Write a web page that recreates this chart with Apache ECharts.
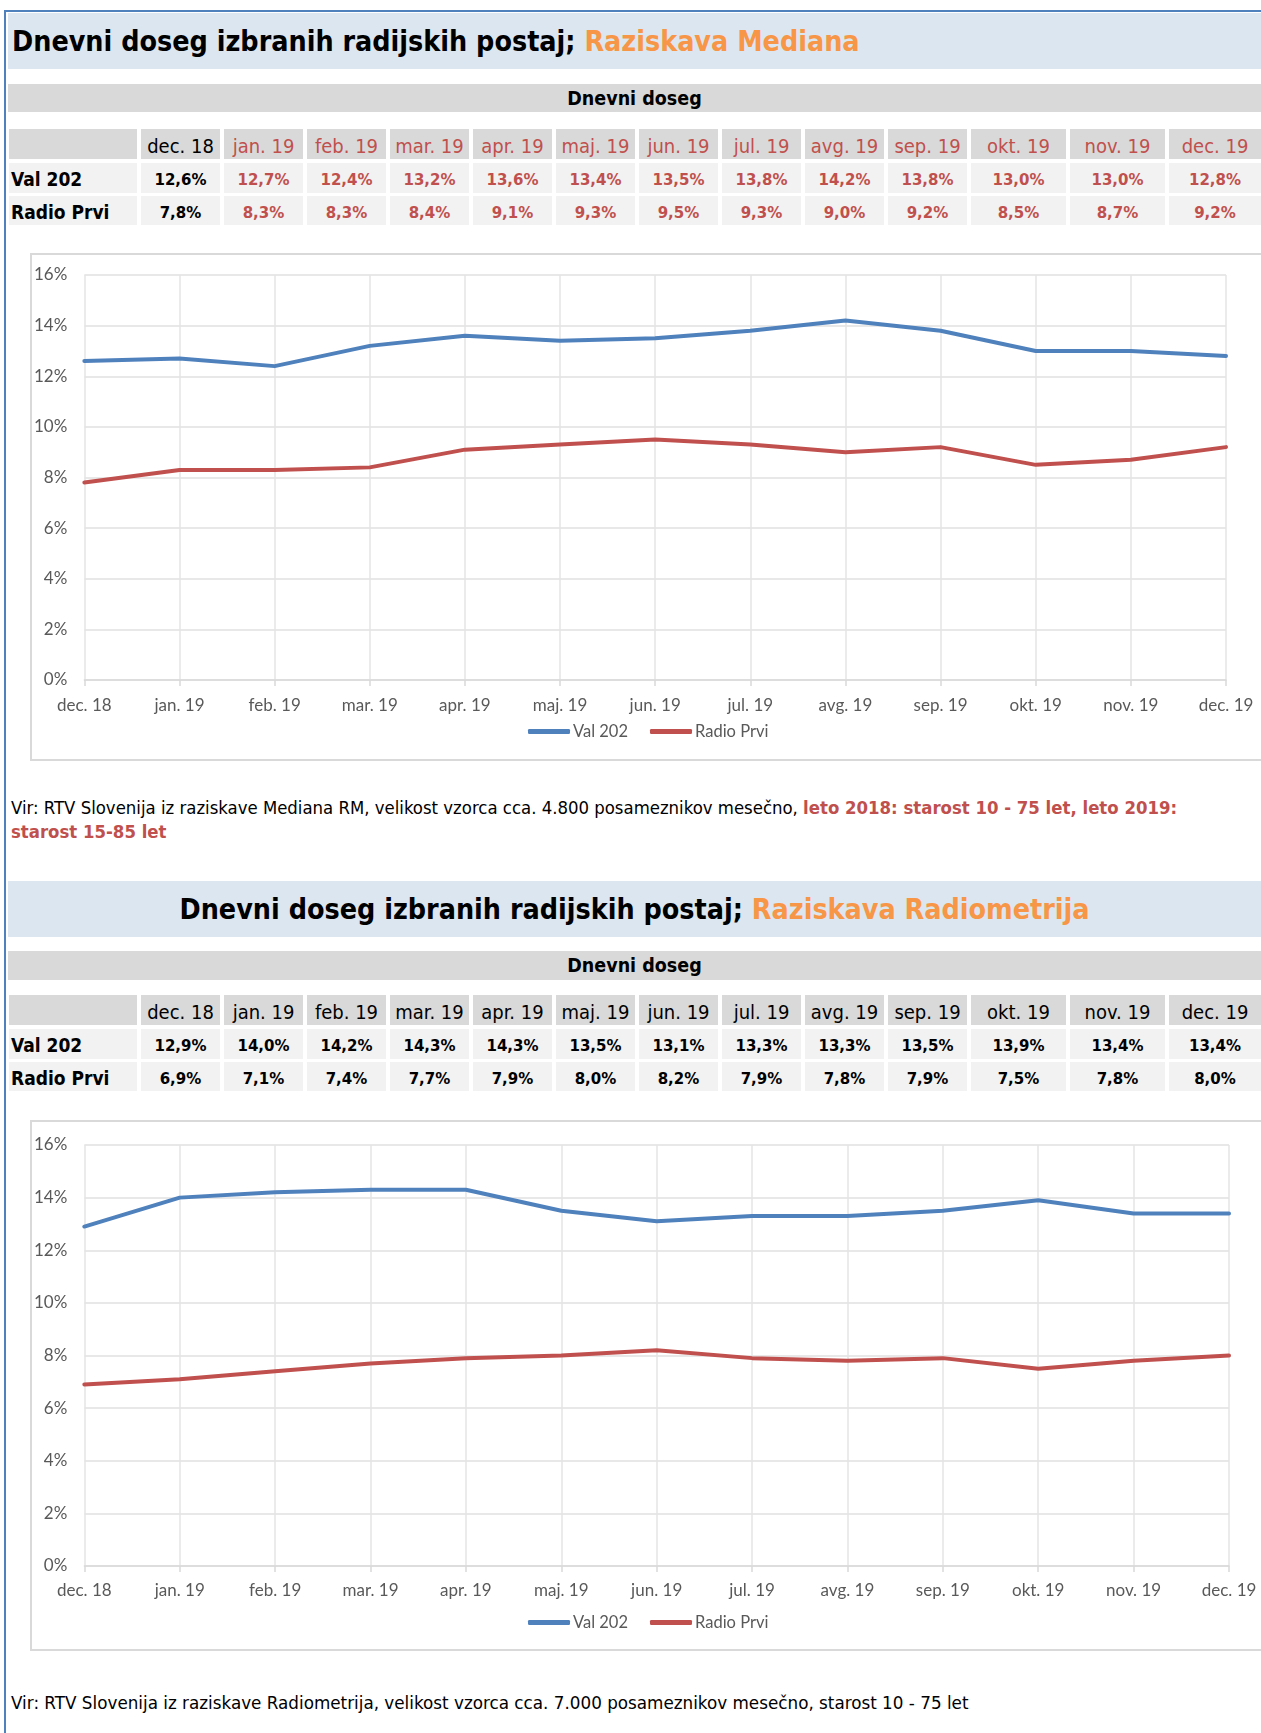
<!DOCTYPE html>
<html><head><meta charset="utf-8">
<script src="https://cdn.jsdelivr.net/npm/echarts@6/dist/echarts.min.js"></script>
<style>
html,body{margin:0;padding:0;width:1261px;height:1733px;overflow:hidden;background:#fff;}
#page{position:relative;width:1261px;height:1733px;}
.a{position:absolute;box-sizing:border-box;white-space:nowrap;}
.cell{display:flex;align-items:center;justify-content:center;}
.tf{font-family:"DejaVu Sans Condensed","DejaVu Sans",sans-serif;}
.tw{font-family:"DejaVu Sans",sans-serif;}
</style></head>
<body>
<div id="page"></div>
<script>
// ---------- DATA ----------
const months = ['dec. 18','jan. 19','feb. 19','mar. 19','apr. 19','maj. 19','jun. 19','jul. 19','avg. 19','sep. 19','okt. 19','nov. 19','dec. 19'];
const seriesNames = ['Val 202','Radio Prvi'];
const medianaVal202      = [12.6,12.7,12.4,13.2,13.6,13.4,13.5,13.8,14.2,13.8,13.0,13.0,12.8];
const medianaRadioPrvi   = [7.8,8.3,8.3,8.4,9.1,9.3,9.5,9.3,9.0,9.2,8.5,8.7,9.2];
const radiometrijaVal202    = [12.9,14.0,14.2,14.3,14.3,13.5,13.1,13.3,13.3,13.5,13.9,13.4,13.4];
const radiometrijaRadioPrvi = [6.9,7.1,7.4,7.7,7.9,8.0,8.2,7.9,7.8,7.9,7.5,7.8,8.0];
const titleMain = 'Dnevni doseg izbranih radijskih postaj; ';
const titleMediana = 'Raziskava Mediana';
const titleRadiometrija = 'Raziskava Radiometrija';
const bandText = 'Dnevni doseg';
const source1a = 'Vir: RTV Slovenija iz raziskave Mediana RM, velikost vzorca cca. 4.800 posameznikov mesečno, ';
const source1b = 'leto 2018: starost 10 - 75 let, leto 2019:';
const source1c = 'starost 15-85 let';
const source2 = 'Vir: RTV Slovenija iz raziskave Radiometrija, velikost vzorca cca. 7.000 posameznikov mesečno, starost 10 - 75 let';
const yMin = 0, yMax = 16, yStep = 2;

// ---------- LAYOUT ----------
const page = document.getElementById('page');
const BLUE = '#4f81bd', RED = '#c0504d', ORANGE = '#f79646';
function box(x,y,w,h,css,html,cls){
  const d=document.createElement('div');
  d.className='a '+(cls||'');
  d.style.cssText=`left:${x}px;top:${y}px;width:${w}px;height:${h}px;`+(css||'');
  if(html!==undefined) d.innerHTML=html;
  page.appendChild(d); return d;
}
// outer blue frame
box(4,10,1300,1800,`border-left:2px solid ${BLUE};border-top:2px solid ${BLUE};`);

function fmt(v){return v.toFixed(1).replace('.',',')+'%';}
const colX=[],colW=[];
for(let i=0;i<13;i++){
  if(i<10){colX.push(141+83*i);colW.push(79);}
  else if(i===10){colX.push(971);colW.push(95);}
  else if(i===11){colX.push(1070);colW.push(95);}
  else {colX.push(1169);colW.push(92);}
}
function table(y0, vals, redFromSecond){
  const rows=[[y0,30],[y0+34,30],[y0+67,29]];
  box(9,rows[0][0],128,rows[0][1],'background:#d9d9d9;');
  months.forEach((m,i)=>{
    const c=(redFromSecond&&i>0)?RED:'#000';
    box(colX[i],rows[0][0],colW[i],rows[0][1],`background:#d9d9d9;color:${c};font-size:20px;padding-top:3px;`,m,'cell tf');
  });
  seriesNames.forEach((n,r)=>{
    const [yy,hh]=rows[r+1];
    box(9,yy,128,hh,'background:#f2f2f2;font-weight:bold;font-size:19px;padding-left:2px;padding-top:2px;display:flex;align-items:center;',n,'tf');
    vals[r].forEach((v,i)=>{
      const c=(redFromSecond&&i>0)?RED:'#000';
      box(colX[i],yy,colW[i],hh,`background:#f2f2f2;color:${c};font-weight:bold;font-size:16.7px;padding-top:2px;`,fmt(v),'cell tf');
    });
  });
}

// Section 1
box(8,13,1253,56,'background:#dce6f1;font-weight:bold;font-size:28.4px;padding-left:4px;display:flex;align-items:center;',
  `<span>${titleMain}</span><span style="color:${ORANGE}">&nbsp;${titleMediana}</span>`,'tf');
box(8,84,1253,28,'background:#d9d9d9;font-weight:bold;font-size:19.5px;',bandText,'cell tf');
table(129,[medianaVal202,medianaRadioPrvi],true);
box(30,253,1240,508,'border:2px solid #d9d9d9;background:#fff;');
const c1=box(31,254,1231,506,'');
box(11,796,1250,50,'font-size:18.4px;line-height:24px;white-space:normal;',
  `${source1a}<b style="color:${RED}">${source1b}<br>${source1c}</b>`,'tf');

// Section 2
box(8,881,1253,56,'background:#dce6f1;font-weight:bold;font-size:28.4px;',
  `<span>${titleMain}</span><span style="color:${ORANGE}">&nbsp;${titleRadiometrija}</span>`,'cell tf');
box(8,951,1253,29,'background:#d9d9d9;font-weight:bold;font-size:19.5px;',bandText,'cell tf');
table(995,[radiometrijaVal202,radiometrijaRadioPrvi],false);
box(30,1120,1240,531,'border:2px solid #d9d9d9;background:#fff;');
const c2=box(31,1121,1231,529,'');
box(11,1691,1250,24,'font-size:16.8px;line-height:24px;',source2,'tw');

// ---------- CHARTS ----------
const TICKFONT='Lato, "Open Sans", sans-serif';
function makeChart(el, val, prvi, grid, legendTop, xMargin){
  const ch=echarts.init(el,null,{renderer:'canvas'});
  ch.setOption({
    animation:false,
    grid:grid,
    legend:{top:legendTop,left:492,itemWidth:42,itemHeight:5,itemGap:22,icon:'roundRect',
      textStyle:{color:'#595959',fontSize:16.5,fontFamily:TICKFONT,padding:[0,0,0,-2]},
      data:seriesNames},
    xAxis:{type:'category',data:months,boundaryGap:false,
      axisLine:{lineStyle:{color:'#d9d9d9',width:1.5}},
      axisTick:{show:true,length:6,lineStyle:{color:'#d9d9d9',width:1.5}},
      axisLabel:{color:'#595959',fontSize:17,fontFamily:TICKFONT,margin:xMargin,interval:0},
      splitLine:{show:true,lineStyle:{color:'#e4e4e4',width:1.5}}},
    yAxis:{type:'value',min:yMin,max:yMax,interval:yStep,
      axisLine:{show:false},axisTick:{show:false},
      axisLabel:{color:'#595959',fontSize:17,fontFamily:TICKFONT,margin:17,formatter:v=>v+'%'},
      splitLine:{lineStyle:{color:'#e0e0e0',width:1.5}}},
    series:[
      {name:seriesNames[0],type:'line',data:val,symbol:'none',color:BLUE,lineStyle:{width:4,color:BLUE,cap:'round',join:'round'}},
      {name:seriesNames[1],type:'line',data:prvi,symbol:'none',color:RED,lineStyle:{width:4,color:RED,cap:'round',join:'round'}}
    ]
  });
}
makeChart(c1,medianaVal202,medianaRadioPrvi,{left:52,right:36,top:21,bottom:80},464,17);
makeChart(c2,radiometrijaVal202,radiometrijaRadioPrvi,{left:51,right:33,top:24,bottom:84},488,16);
</script>
</body></html>
